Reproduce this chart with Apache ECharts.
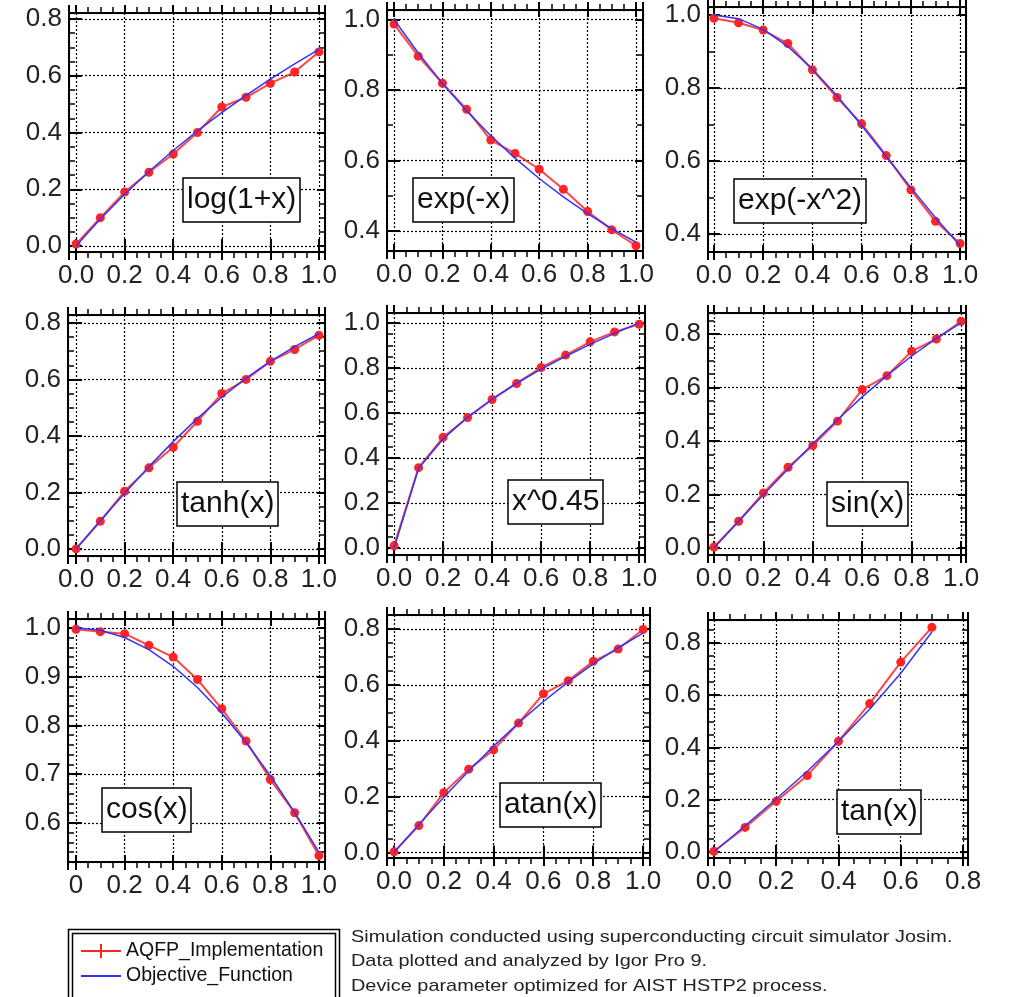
<!DOCTYPE html>
<html>
<head>
<meta charset="utf-8">
<title>AQFP function approximation</title>
<script src="https://cdn.jsdelivr.net/npm/echarts@6/dist/echarts.min.js"></script>
<style>
  html, body { margin: 0; padding: 0; background: #fff; }
  #chart { width: 1010px; height: 997px; }
</style>
</head>
<body>
<div id="chart"></div>
<script>
// x sample points
const xSteps = [0, 0.1, 0.2, 0.3, 0.4, 0.5, 0.6, 0.7, 0.8, 0.9, 1.0];
const xStepsTan = [0, 0.1, 0.2, 0.3, 0.4, 0.5, 0.6, 0.7];

// AQFP_Implementation (red) and Objective_Function (blue), per panel
const aqfpLog = [0.007, 0.10, 0.19, 0.26, 0.324, 0.40, 0.49, 0.524, 0.573, 0.613, 0.684];
const objLog = [0, 0.0953, 0.1823, 0.2624, 0.3365, 0.4055, 0.4700, 0.5306, 0.5878, 0.6419, 0.6931];

const aqfpExp = [0.987, 0.896, 0.819, 0.745, 0.658, 0.620, 0.575, 0.518, 0.455, 0.403, 0.358];
const objExp = [1.0, 0.9048, 0.8187, 0.7408, 0.6703, 0.6065, 0.5488, 0.4966, 0.4493, 0.4066, 0.3679];

const aqfpGauss = [0.991, 0.979, 0.959, 0.922, 0.850, 0.774, 0.702, 0.615, 0.521, 0.435, 0.374];
const objGauss = [1.0, 0.9900, 0.9608, 0.9139, 0.8521, 0.7788, 0.6977, 0.6126, 0.5273, 0.4449, 0.3679];

const aqfpTanh = [0.0, 0.098, 0.204, 0.287, 0.360, 0.452, 0.550, 0.600, 0.664, 0.706, 0.756];
const objTanh = [0, 0.0997, 0.1974, 0.2913, 0.3799, 0.4621, 0.5370, 0.6044, 0.6640, 0.7163, 0.7616];

const aqfpPow = [0.01, 0.357, 0.492, 0.58, 0.66, 0.731, 0.802, 0.857, 0.916, 0.96, 0.994];
const objPow = [0, 0.3548, 0.4846, 0.5817, 0.6619, 0.7320, 0.7946, 0.8517, 0.9044, 0.9537, 1.0];

const aqfpSin = [0.004, 0.10, 0.206, 0.302, 0.383, 0.474, 0.592, 0.644, 0.735, 0.781, 0.847];
const objSin = [0, 0.0998, 0.1987, 0.2955, 0.3894, 0.4794, 0.5646, 0.6442, 0.7174, 0.7833, 0.8415];

const aqfpCos = [0.997, 0.992, 0.988, 0.964, 0.940, 0.894, 0.834, 0.768, 0.689, 0.621, 0.533];
const objCos = [1.0, 0.9950, 0.9801, 0.9553, 0.9211, 0.8776, 0.8253, 0.7648, 0.6967, 0.6216, 0.5403];

const aqfpAtan = [0.002, 0.096, 0.214, 0.298, 0.367, 0.463, 0.568, 0.615, 0.684, 0.728, 0.798];
const objAtan = [0, 0.0997, 0.1974, 0.2915, 0.3805, 0.4636, 0.5404, 0.6107, 0.6747, 0.7328, 0.7854];

const aqfpTan = [0.003, 0.094, 0.194, 0.293, 0.424, 0.568, 0.727, 0.86];
const objTan = [0, 0.1003, 0.2027, 0.3093, 0.4228, 0.5463, 0.6841, 0.8423];

const panelNames = ['log(1+x)', 'exp(-x)', 'exp(-x^2)', 'tanh(x)', 'x^0.45', 'sin(x)', 'cos(x)', 'atan(x)', 'tan(x)'];
const panelX = [xSteps, xSteps, xSteps, xSteps, xSteps, xSteps, xSteps, xSteps, xStepsTan];
const panelAqfp = [aqfpLog, aqfpExp, aqfpGauss, aqfpTanh, aqfpPow, aqfpSin, aqfpCos, aqfpAtan, aqfpTan];
const panelObj = [objLog, objExp, objGauss, objTanh, objPow, objSin, objCos, objAtan, objTan];

// axis ranges (Igor pads a little around the data)
const xRanges = [[-0.029, 1.025], [-0.029, 1.029], [-0.024, 1.024], [-0.033, 1.025], [-0.029, 1.024], [-0.024, 1.02], [-0.033, 1.025], [-0.028, 1.028], [-0.019, 0.816]];
const yRanges = [[-0.021, 0.821], [0.343, 1.027], [0.351, 1.022], [-0.025, 0.828], [-0.031, 1.044], [-0.026, 0.878], [0.52, 1.018], [-0.02, 0.85], [-0.023, 0.888]];
const yTickStep = [0.2, 0.2, 0.2, 0.2, 0.2, 0.2, 0.1, 0.2, 0.2];
const yMinorSplit = [4, 2, 2, 4, 4, 4, 5, 4, 4];

const legendNames = ['AQFP_Implementation', 'Objective_Function'];
const noteLines = [
  'Simulation conducted using superconducting circuit simulator Josim.',
  'Data plotted and analyzed by Igor Pro 9.',
  'Device parameter optimized for AIST HSTP2 process.'
];

// layout: plot frames [left, top, right, bottom] and label box corners
const frames = [
  [69, 13, 325, 252], [387, 10, 643, 251], [708, 7, 966, 252],
  [68, 315, 325, 556], [387, 313, 645, 555], [708, 313, 966, 555],
  [68, 619, 325, 862], [387, 615, 650, 858], [708, 620, 968, 858]
];
const labelPos = [[183, 178], [413, 178], [734, 179], [177, 482], [508, 480], [827, 482], [102, 788], [500, 783], [837, 790]];

const FONT = '"Liberation Sans", Arial, Helvetica, sans-serif';

const tickFormatter = (step, zeroAsInt) => v => {
  const k = v / step;
  if (Math.abs(k - Math.round(k)) > 1e-6) return '';
  if (zeroAsInt && Math.abs(v) < 1e-9) return '0';
  return v.toFixed(1);
};

var myChart = echarts.init(document.getElementById('chart'));

const grids = [], xAxes = [], yAxes = [], series = [], titles = [];

panelNames.forEach((name, i) => {
  const [L, T, R, B] = frames[i];
  const rect = { left: L, top: T, width: R - L, height: B - T, containLabel: false, outerBoundsMode: 'none' };
  grids.push(Object.assign({}, rect)); // main grid
  grids.push(Object.assign({}, rect)); // overlay for crossing major ticks
  const gMain = 2 * i, gOver = 2 * i + 1;
  const frameLine = { show: true, onZero: false, lineStyle: { color: '#000', width: 2 } };
  const dotted = { show: true, lineStyle: { color: '#000', width: 1.2, type: [2, 2] } };
  const xBase = {
    type: 'value', min: xRanges[i][0], max: xRanges[i][1],
    minInterval: 0.2, maxInterval: 0.2, splitNumber: 5
  };
  const yBase = {
    type: 'value', min: yRanges[i][0], max: yRanges[i][1],
    minInterval: yTickStep[i], maxInterval: yTickStep[i], splitNumber: 5
  };

  // x: bottom (labels) + top, ticks outward
  xAxes.push(Object.assign({}, xBase, {
    gridIndex: gMain, position: 'bottom',
    axisLine: frameLine,
    axisTick: { show: true, inside: false, length: 8, lineStyle: { color: '#000', width: 2 } },
    minorTick: { show: true, splitNumber: 4, length: 6, lineStyle: { color: '#000', width: 1.5 } },
    axisLabel: {
      show: true, margin: 11, color: '#222', fontSize: 26, fontFamily: FONT,
      formatter: tickFormatter(0.2, i === 6), showMinLabel: false, showMaxLabel: false
    },
    splitLine: dotted
  }));
  xAxes.push(Object.assign({}, xBase, {
    gridIndex: gMain, position: 'top',
    axisLine: frameLine,
    axisTick: { show: true, inside: false, length: 8, lineStyle: { color: '#000', width: 2 } },
    minorTick: { show: true, splitNumber: 4, length: 6, lineStyle: { color: '#000', width: 1.5 } },
    axisLabel: { show: false },
    splitLine: { show: false }
  }));
  ['bottom', 'top'].forEach(pos => {
    xAxes.push(Object.assign({}, xBase, {
      gridIndex: gOver, position: pos,
      axisLine: { show: false },
      axisTick: { show: true, inside: true, length: 7, lineStyle: { color: '#000', width: 2 } },
      axisLabel: { show: false },
      splitLine: { show: false }
    }));
  });

  // y: left (labels) + right, ticks inward
  yAxes.push(Object.assign({}, yBase, {
    gridIndex: gMain, position: 'left',
    axisLine: frameLine,
    axisTick: { show: true, inside: true, length: 8, lineStyle: { color: '#000', width: 2 } },
    minorTick: { show: true, splitNumber: yMinorSplit[i], length: 6, lineStyle: { color: '#000', width: 1.5 } },
    axisLabel: {
      show: true, margin: 7, color: '#222', fontSize: 26, fontFamily: FONT,
      formatter: tickFormatter(yTickStep[i], false), showMinLabel: false, showMaxLabel: false
    },
    splitLine: dotted
  }));
  yAxes.push(Object.assign({}, yBase, {
    gridIndex: gMain, position: 'right',
    axisLine: frameLine,
    axisTick: { show: true, inside: true, length: 8, lineStyle: { color: '#000', width: 2 } },
    minorTick: { show: true, splitNumber: yMinorSplit[i], length: 6, lineStyle: { color: '#000', width: 1.5 } },
    axisLabel: { show: false },
    splitLine: { show: false }
  }));
  ['left', 'right'].forEach(pos => {
    yAxes.push(Object.assign({}, yBase, {
      gridIndex: gOver, position: pos,
      axisLine: { show: false },
      axisTick: { show: true, inside: false, length: 6, lineStyle: { color: '#000', width: 2 } },
      axisLabel: { show: false },
      splitLine: { show: false }
    }));
  });

  const xs = panelX[i];
  series.push({
    type: 'line', name: legendNames[0],
    xAxisIndex: 4 * i, yAxisIndex: 4 * i,
    data: xs.map((x, k) => [x, panelAqfp[i][k]]),
    symbol: 'circle', symbolSize: 9, showSymbol: true,
    lineStyle: { color: '#ff2424', width: 2, opacity: 0.85 },
    itemStyle: { color: '#ff2424' },
    clip: false, silent: true, z: 3
  });
  series.push({
    type: 'line', name: legendNames[1],
    xAxisIndex: 4 * i, yAxisIndex: 4 * i,
    data: xs.map((x, k) => [x, panelObj[i][k]]),
    symbol: 'none',
    lineStyle: { color: '#3333ff', width: 1.5 },
    itemStyle: { color: '#3333ff' },
    clip: false, silent: true, z: 4
  });

  titles.push({
    text: name, left: labelPos[i][0], top: labelPos[i][1],
    backgroundColor: '#fff', borderColor: '#000', borderWidth: 1.5,
    padding: [7, 4],
    textStyle: { fontSize: 30, fontWeight: 'normal', color: '#111', fontFamily: FONT }
  });
});

const options = {
  animation: false,
  backgroundColor: '#fff',
  title: titles,
  grid: grids,
  xAxis: xAxes,
  yAxis: yAxes,
  legend: {
    data: [
      { name: legendNames[0], icon: 'path://M0,6H40V8H0Z M19,0H21V14H19Z' },
      { name: legendNames[1], itemStyle: { opacity: 0 } }
    ],
    orient: 'vertical', left: 80, top: 941,
    itemWidth: 40, itemHeight: 14, itemGap: 5, padding: 0,
    selectedMode: false,
    textStyle: { fontSize: 19.5, color: '#111', fontFamily: FONT }
  },
  graphic: [
    // double frame of the legend box
    { type: 'rect', left: 66, top: 927, shape: { width: 271, height: 80 }, style: { fill: 'none', stroke: '#000', lineWidth: 1.5 }, z: 100 },
    { type: 'rect', left: 70, top: 931, shape: { width: 263, height: 80 }, style: { fill: 'none', stroke: '#000', lineWidth: 1.5 }, z: 100 },
    // notes to the right of the legend
    {
      type: 'text', x: 351, y: 925, scaleX: 1.17, z: 100,
      style: {
        text: noteLines.join('\n'), fill: '#222', font: '17px ' + FONT,
        lineHeight: 24.5, verticalAlign: 'top', align: 'left'
      }
    }
  ],
  series: series
};

myChart.setOption(options);
</script>
</body>
</html>
